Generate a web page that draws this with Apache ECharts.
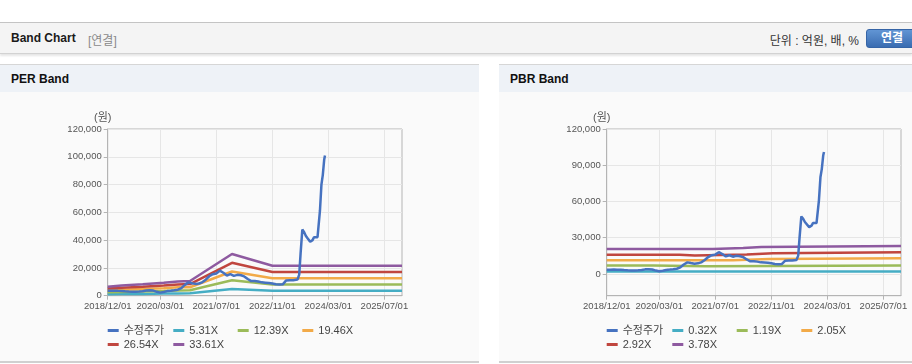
<!DOCTYPE html>
<html>
<head>
<meta charset="utf-8">
<script src="https://cdn.jsdelivr.net/npm/echarts@6/dist/echarts.min.js"></script>
<style>
  html, body { margin: 0; padding: 0; background: #ffffff; }
  body { width: 912px; height: 364px; position: relative; overflow: hidden;
         font-family: 'Liberation Sans', 'Noto Sans CJK KR', sans-serif; }
  .topbar { position: absolute; left: 0; top: 22px; width: 912px; height: 30px;
            background: #f4f4f4; border-top: 1px solid #c4c4c4; border-bottom: 1px solid #d2d2d2;
            box-shadow: 0 2px 2px rgba(0,0,0,0.10); }
  .topbar .t1 { position: absolute; left: 11px; top: 8px; font-size: 12px; font-weight: bold; color: #1a1a1a; }
  .topbar .t2 { position: absolute; left: 88px; top: 8px; font-size: 12px; color: #8a8a8a; }
  .topbar .unit { position: absolute; right: 53px; top: 8px; font-size: 12px; color: #333; }
  .topbar .btn { position: absolute; left: 866px; top: 6px; width: 52px; height: 19px; border-radius: 3px;
                 background: linear-gradient(#6195d4, #3a6cb1); border: 1px solid #3564a6;
                 color: #fff; font-size: 12px; font-weight: bold; text-align: center; line-height: 17px; box-sizing: border-box; }
  .panel { position: absolute; top: 64px; height: 299px; background: #fafafa;
           border-top: 1px solid #d6d6d6; border-bottom: 2px solid #d0d0d0; box-sizing: border-box; }
  .panel .head { position: absolute; left: 0; top: 0; right: 0; height: 27px; background: #eef2f7; }
  .panel .head span { position: absolute; left: 11px; top: 7px; font-size: 12px; font-weight: bold; color: #111; }
  #chart { position: absolute; left: 0; top: 0; width: 912px; height: 364px; }
</style>
</head>
<body>
<div class="topbar">
  <span class="t1">Band Chart</span><span class="t2">[연결]</span>
  <span class="unit">단위 : 억원, 배, %</span>
  <div class="btn">연결</div>
</div>
<div class="panel" style="left:0;width:479px;"><div class="head"><span>PER Band</span></div></div>
<div class="panel" style="left:499px;width:413px;"><div class="head"><span>PBR Band</span></div></div>
<div id="chart"></div>
<script>
// ---------- data ----------
const xTickDates = ['2018-12-01', '2020-03-01', '2021-07-01', '2022-11-01', '2024-03-01', '2025-07-01'];
const xStart = '2018-12-01';
const xEnd = '2025-12-01';

const priceName = '수정주가';
const priceDates = ['2018-12-01','2019-01-01','2019-02-01','2019-03-01','2019-04-01','2019-05-01','2019-06-01',
  '2019-07-01','2019-08-01','2019-09-01','2019-10-01','2019-11-01','2019-12-01','2020-01-01','2020-02-01',
  '2020-03-01','2020-04-01','2020-05-01','2020-06-01','2020-07-01','2020-08-01','2020-09-01','2020-10-01',
  '2020-11-01','2020-12-01','2021-01-01','2021-02-01','2021-03-01','2021-04-01','2021-05-01','2021-06-01',
  '2021-07-01','2021-08-01','2021-09-01','2021-10-01','2021-11-01','2021-12-01','2022-01-01','2022-02-01',
  '2022-03-01','2022-04-01','2022-05-01','2022-06-01','2022-07-01','2022-08-01','2022-09-01','2022-10-01',
  '2022-11-01','2022-12-01','2023-01-01','2023-02-01','2023-03-01','2023-04-01','2023-05-01','2023-06-07',
  '2023-06-22','2023-07-04','2023-07-19','2023-08-04','2023-08-19','2023-09-01','2023-09-25','2023-10-16',
  '2023-10-28','2023-11-28','2023-12-10','2023-12-19','2024-01-01','2024-01-13','2024-01-25','2024-02-01'];
const priceValues = [3500,3500,3600,3500,3400,3200,3000,
  2900,2900,3000,3200,3800,3900,3700,2800,
  2200,2700,3300,3600,3900,4300,5500,7800,
  9600,9000,8500,8800,9600,11500,14000,15500,
  16000,18000,16500,14500,15500,14300,15000,14700,
  13900,12000,10500,10600,10200,9600,9400,9200,
  8800,8200,8000,8300,11000,11200,11200,11600,
  15200,30500,47600,45700,43000,41500,38800,40000,
  42100,42100,41500,61000,80000,87000,98000,101000];

// PER band (원)
const perNames = ['5.31X', '12.39X', '19.46X', '26.54X', '33.61X'];
const perDates = ['2018-12-01','2019-04-01','2019-10-01','2020-04-01','2020-08-01','2020-11-15','2021-11-15','2022-11-01','2025-12-01'];
const per531  = [1000, 1200, 1300, 1500, 1600, 1700, 4800, 3600, 3600];
const per1239 = [2400, 2700, 3100, 3400, 3800, 3900, 11100, 8100, 8100];
const per1946 = [3800, 4300, 4800, 5400, 6000, 6100, 17400, 12500, 12500];
const per2654 = [5100, 5800, 6500, 7300, 8100, 8400, 23700, 17000, 17000];
const per3361 = [6500, 7400, 8300, 9300, 10300, 10600, 30000, 21600, 21600];

// PBR band (원)
const pbrNames = ['0.32X', '1.19X', '2.05X', '2.92X', '3.78X'];
const pbr032Dates = ['2018-12-01','2025-12-01'];
const pbr032 = [2000, 2000];
const pbr119Dates = ['2018-12-01','2020-01-10','2021-04-15','2025-12-01'];
const pbr119 = [7100, 6300, 7100, 7100];
const pbr205Dates = ['2018-12-01','2021-12-01','2022-10-15','2025-12-01'];
const pbr205 = [11300, 12300, 13100, 13100];
const pbr292Dates = ['2018-12-01','2020-08-25','2021-01-05','2022-04-01','2022-11-15','2025-12-01'];
const pbr292 = [16000, 15200, 16200, 17100, 17900, 17900];
const pbr378Dates = ['2018-12-01','2021-06-10','2022-03-01','2022-08-05','2025-12-01'];
const pbr378 = [20600, 21500, 22400, 23100, 23100];

const perYTicks = [0, 20000, 40000, 60000, 80000, 100000, 120000];
const pbrYTicks = [0, 30000, 60000, 90000, 120000];

// ---------- helpers ----------
function ts(s) { const p = s.split('-'); return new Date(+p[0], +p[1] - 1, +p[2]).getTime(); }
function pad(n) { return (n < 10 ? '0' : '') + n; }
function fmtDate(v) { const d = new Date(v); return d.getFullYear() + '/' + pad(d.getMonth() + 1) + '/' + pad(d.getDate()); }
function pairs(dates, vals) { return dates.map((d, i) => [ts(d), vals[i]]); }
function fmtNum(v) { return Number(v).toLocaleString('en-US'); }

const colors = { price: '#4672c0', c1: '#45adc4', c2: '#9bbb59', c3: '#f2aa48', c4: '#c0463f', c5: '#8e5aa0' };
const FONT = "'Liberation Sans', 'Noto Sans CJK KR', sans-serif";

const gridW = 294.3, gridH = 166.7, gridTop = 129;
const leftX = [107.7, 606.7];

function xAxis(idx) {
  const tv = xTickDates.map(ts);
  return {
    type: 'value', gridIndex: idx, min: ts(xStart), max: ts(xEnd), scale: true,
    axisLine: { show: true, onZero: false, lineStyle: { color: '#b4b4b4' } },
    axisTick: { show: true, length: 4, lineStyle: { color: '#b4b4b4' }, customValues: tv },
    axisLabel: { customValues: tv, formatter: fmtDate, fontSize: 9.5, color: '#555',
                 fontFamily: FONT, margin: 6, hideOverlap: false },
    splitLine: { show: true, lineStyle: { color: '#e6e6e6', width: 1 } }
  };
}
function yAxis(idx, min, max, ticks) {
  return {
    type: 'value', gridIndex: idx, min: min, max: max,
    name: '(원)', nameLocation: 'end', nameGap: 6,
    nameTextStyle: { fontSize: 11, color: '#555', fontFamily: FONT, align: 'center', padding: [0, 10, 0, 0] },
    axisLine: { show: true, onZero: false, lineStyle: { color: '#b4b4b4' } },
    axisTick: { show: true, length: 4, lineStyle: { color: '#b4b4b4' }, customValues: ticks },
    axisLabel: { customValues: ticks, formatter: fmtNum, fontSize: 9.5, color: '#555', fontFamily: FONT, margin: 6 },
    splitLine: { show: true, lineStyle: { color: '#e6e6e6', width: 1 } }
  };
}
function line(name, data, color, idx, extra) {
  return Object.assign({
    name: name, type: 'line', xAxisIndex: idx, yAxisIndex: idx, data: data,
    showSymbol: false, symbol: 'none', color: color,
    lineStyle: { width: 2.5, color: color }, animation: false, z: 2
  }, extra || {});
}
// one legend per item, laid out in a fixed 4-column grid
const legendCols = [0, 65.6, 130, 194.6];
const legendRows = [325, 339];
function legends(x0, names) {
  return names.map((n, i) => ({
    left: x0 + legendCols[i % 4], top: legendRows[Math.floor(i / 4)],
    itemWidth: 11, itemHeight: 3, icon: 'rect', padding: 0, selectedMode: false,
    textStyle: { fontSize: 11, color: '#444', fontFamily: FONT },
    data: [n]
  }));
}

const bandColors = [colors.c1, colors.c2, colors.c3, colors.c4, colors.c5];
const perVals = [per531, per1239, per1946, per2654, per3361];
const pbrSets = [[pbr032Dates, pbr032], [pbr119Dates, pbr119], [pbr205Dates, pbr205], [pbr292Dates, pbr292], [pbr378Dates, pbr378]];

const series = [];
series.push(line(priceName, pairs(priceDates, priceValues), colors.price, 0, { z: 5 }));
perNames.forEach((n, i) => series.push(line(n, pairs(perDates, perVals[i]), bandColors[i], 0)));
series.push(line(priceName, pairs(priceDates, priceValues), colors.price, 1, { z: 5 }));
pbrNames.forEach((n, i) => series.push(line(n, pairs(pbrSets[i][0], pbrSets[i][1]), bandColors[i], 1, { step: 'end' })));

const chart = echarts.init(document.getElementById('chart'), null, { renderer: 'canvas' });
chart.setOption({
  animation: false,
  backgroundColor: 'transparent',
  textStyle: { fontFamily: FONT },
  grid: leftX.map(l => ({ left: l, top: gridTop, width: gridW, height: gridH, show: true,
                         borderColor: '#b4b4b4', borderWidth: 1, backgroundColor: 'transparent' })),
  xAxis: [xAxis(0), xAxis(1)],
  yAxis: [yAxis(0, 0, 120000, perYTicks), yAxis(1, -18000, 120000, pbrYTicks)],
  legend: legends(107.7, [priceName].concat(perNames)).concat(legends(606.7, [priceName].concat(pbrNames))),
  tooltip: { show: false },
  series: series
});
</script>
</body>
</html>
